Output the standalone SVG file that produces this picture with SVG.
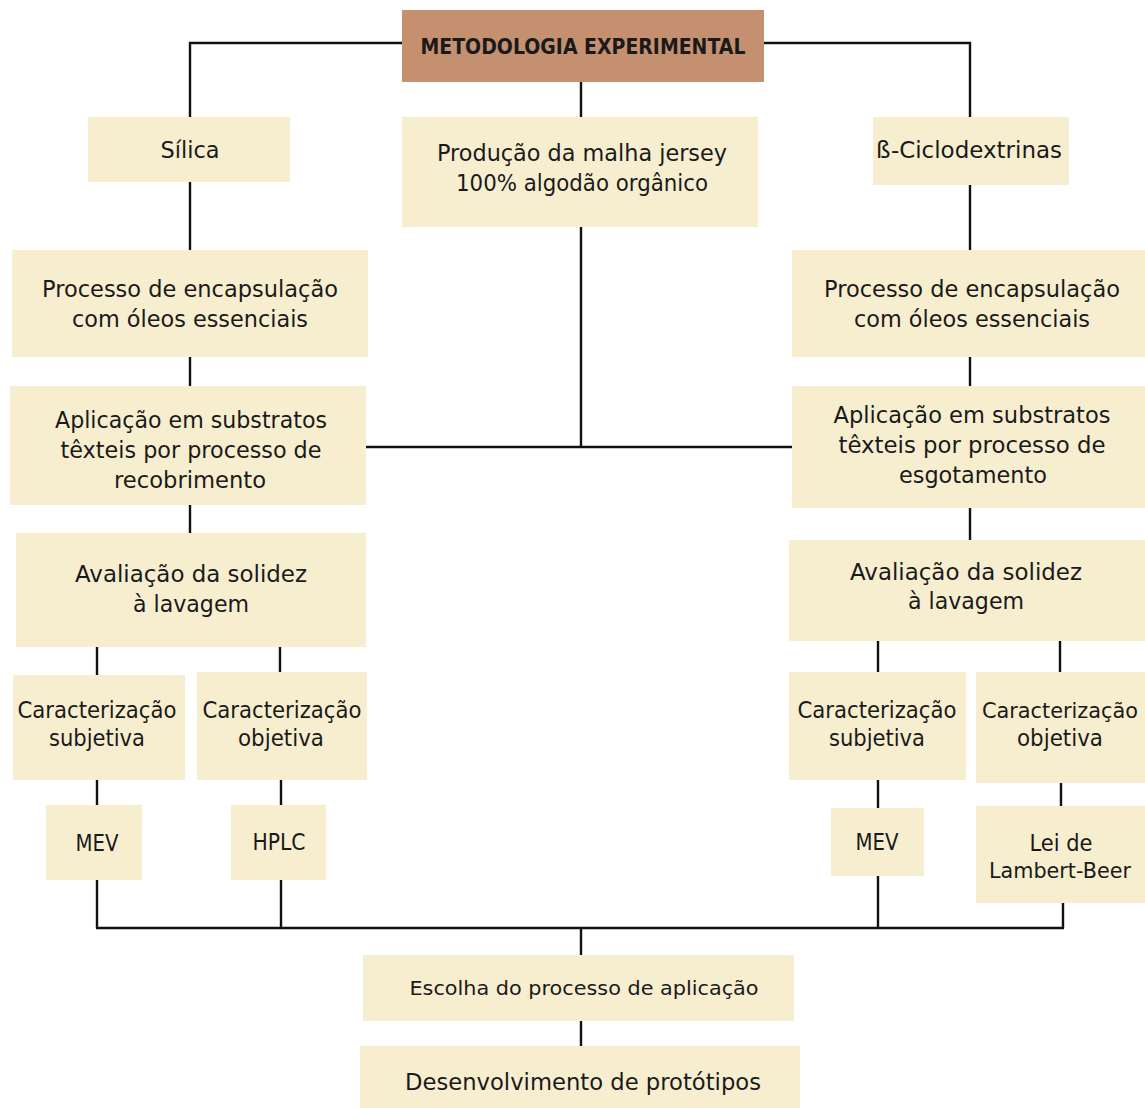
<svg xmlns="http://www.w3.org/2000/svg" width="1145" height="1108" viewBox="0 0 1145 1108">
<style>
.box{fill:#F7EED0}
.hd{fill:#C4906F}
text{font-family:"DejaVu Sans","Liberation Sans",sans-serif;font-size:23.5px;fill:#1a1a1a;text-anchor:middle}
.b{font-weight:bold;font-size:20.5px}
.s{font-size:19.5px}
.e{font-size:21px}
.c{stroke:#111;stroke-width:2.4;fill:none}
</style>
<rect width="1145" height="1108" fill="#fff"/>
<g id="connectors">
<path class="c" d="M402 43H190V117M764 43H970V117M581 82V117"/>
<path class="c" d="M190 182V250M970 185V250M190 357V386M970 357V386"/>
<path class="c" d="M581 227V447M366 447H792"/>
<path class="c" d="M190 505V533M970 508V540"/>
<path class="c" d="M97 647V675M280 647V672M878 641V672M1060 641V672"/>
<path class="c" d="M97 780V805M281 780V805M878 780V808M1061 783V806"/>
<path class="c" d="M97 880V928M281 880V928M878 876V928M1063 903V928M96 928H1064"/>
<path class="c" d="M581 928V955M581 1021V1046"/>
</g>
<g id="n-header"><rect class="hd" x="402" y="10" width="362" height="72"/><text class="b" x="583" y="54" textLength="325" lengthAdjust="spacingAndGlyphs">METODOLOGIA EXPERIMENTAL</text></g>
<g id="n-silica"><rect class="box" x="88" y="117" width="202" height="65"/><text x="190" y="158" textLength="59" lengthAdjust="spacingAndGlyphs">Sílica</text></g>
<g id="n-producao"><rect class="box" x="402" y="117" width="356" height="110"/><text x="582" y="161" textLength="290" lengthAdjust="spacingAndGlyphs">Produção da malha jersey</text><text x="582" y="191" textLength="252" lengthAdjust="spacingAndGlyphs">100% algodão orgânico</text></g>
<g id="n-ciclo"><rect class="box" x="873" y="117" width="196" height="68"/><text x="969" y="158" textLength="186" lengthAdjust="spacingAndGlyphs">ß-Ciclodextrinas</text></g>
<g id="n-encap-l"><rect class="box" x="12" y="250" width="356" height="107"/><text x="190" y="297" textLength="296" lengthAdjust="spacingAndGlyphs">Processo de encapsulação</text><text x="190" y="327" textLength="236" lengthAdjust="spacingAndGlyphs">com óleos essenciais</text></g>
<g id="n-encap-r"><rect class="box" x="792" y="250" width="353" height="107"/><text x="972" y="297" textLength="296" lengthAdjust="spacingAndGlyphs">Processo de encapsulação</text><text x="972" y="327" textLength="236" lengthAdjust="spacingAndGlyphs">com óleos essenciais</text></g>
<g id="n-aplic-l"><rect class="box" x="10" y="386" width="356" height="119"/><text x="191" y="428" textLength="272" lengthAdjust="spacingAndGlyphs">Aplicação em substratos</text><text x="191" y="458" textLength="261" lengthAdjust="spacingAndGlyphs">têxteis por processo de</text><text x="190" y="488" textLength="152" lengthAdjust="spacingAndGlyphs">recobrimento</text></g>
<g id="n-aplic-r"><rect class="box" x="792" y="386" width="353" height="122"/><text x="972" y="423" textLength="277" lengthAdjust="spacingAndGlyphs">Aplicação em substratos</text><text x="972" y="453" textLength="267" lengthAdjust="spacingAndGlyphs">têxteis por processo de</text><text x="973" y="483" textLength="148" lengthAdjust="spacingAndGlyphs">esgotamento</text></g>
<g id="n-aval-l"><rect class="box" x="16" y="533" width="350" height="114"/><text x="191" y="582" textLength="232" lengthAdjust="spacingAndGlyphs">Avaliação da solidez</text><text x="191" y="612" textLength="116" lengthAdjust="spacingAndGlyphs">à lavagem</text></g>
<g id="n-aval-r"><rect class="box" x="789" y="540" width="356" height="101"/><text x="966" y="580" textLength="232" lengthAdjust="spacingAndGlyphs">Avaliação da solidez</text><text x="966" y="609" textLength="116" lengthAdjust="spacingAndGlyphs">à lavagem</text></g>
<g id="n-subj-l"><rect class="box" x="13" y="675" width="172" height="105"/><text x="97" y="718" textLength="159" lengthAdjust="spacingAndGlyphs">Caracterização</text><text x="97" y="746" textLength="96" lengthAdjust="spacingAndGlyphs">subjetiva</text></g>
<g id="n-obj-l"><rect class="box" x="197" y="672" width="170" height="108"/><text x="282" y="718" textLength="159" lengthAdjust="spacingAndGlyphs">Caracterização</text><text x="281" y="746" textLength="86" lengthAdjust="spacingAndGlyphs">objetiva</text></g>
<g id="n-subj-r"><rect class="box" x="789" y="672" width="177" height="108"/><text x="877" y="718" textLength="159" lengthAdjust="spacingAndGlyphs">Caracterização</text><text x="877" y="746" textLength="96" lengthAdjust="spacingAndGlyphs">subjetiva</text></g>
<g id="n-obj-r"><rect class="box" x="976" y="672" width="169" height="111"/><text class="e" x="1060" y="718" textLength="156" lengthAdjust="spacingAndGlyphs">Caracterização</text><text x="1060" y="746" textLength="86" lengthAdjust="spacingAndGlyphs">objetiva</text></g>
<g id="n-mev-l"><rect class="box" x="46" y="805" width="96" height="75"/><text x="97" y="851" textLength="43" lengthAdjust="spacingAndGlyphs">MEV</text></g>
<g id="n-hplc"><rect class="box" x="231" y="805" width="95" height="75"/><text x="279" y="850" textLength="53" lengthAdjust="spacingAndGlyphs">HPLC</text></g>
<g id="n-mev-r"><rect class="box" x="831" y="808" width="93" height="68"/><text x="877" y="850" textLength="43" lengthAdjust="spacingAndGlyphs">MEV</text></g>
<g id="n-lambert"><rect class="box" x="976" y="806" width="169" height="97"/><text x="1061" y="851" textLength="63" lengthAdjust="spacingAndGlyphs">Lei de</text><text class="e" x="1060" y="878" textLength="142" lengthAdjust="spacingAndGlyphs" style="font-size:20.5px">Lambert-Beer</text></g>
<g id="n-escolha"><rect class="box" x="363" y="955" width="431" height="66"/><text class="s" x="584" y="995" textLength="349" lengthAdjust="spacingAndGlyphs">Escolha do processo de aplicação</text></g>
<g id="n-desenv"><rect class="box" x="360" y="1046" width="440" height="62"/><text x="583" y="1090" textLength="356" lengthAdjust="spacingAndGlyphs">Desenvolvimento de protótipos</text></g>
</svg>
